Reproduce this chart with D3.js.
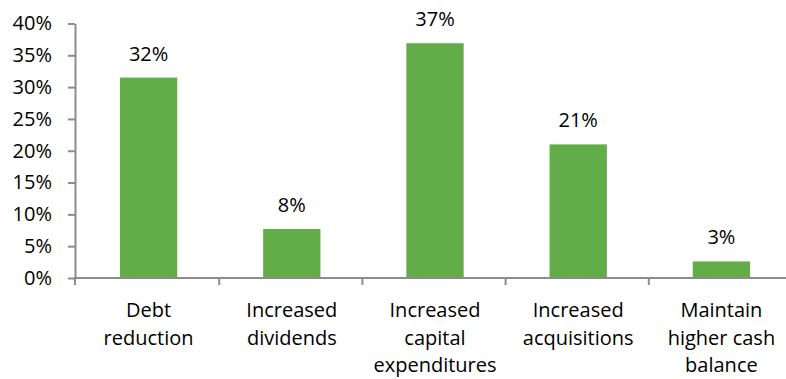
<!DOCTYPE html>
<html>
<head>
<meta charset="utf-8">
<script src="https://cdn.jsdelivr.net/npm/d3@7"></script>
<style>
  html, body { margin: 0; padding: 0; background: #fff; }
  svg { display: block; }
  text { font-family: "Open Sans", "Noto Sans", sans-serif; fill: #000; }
</style>
</head>
<body>
<svg id="chart" width="786" height="379"></svg>
<script>
// Uses of the funds: share of respondents per option
const categories = [
  "Debt reduction",
  "Increased dividends",
  "Increased capital expenditures",
  "Increased acquisitions",
  "Maintain higher cash balance"
];
const categoryLines = [
  ["Debt", "reduction"],
  ["Increased", "dividends"],
  ["Increased", "capital", "expenditures"],
  ["Increased", "acquisitions"],
  ["Maintain", "higher cash", "balance"]
];
const shares = [0.315, 0.077, 0.369, 0.210, 0.026];
const yTicks = [0, 0.05, 0.10, 0.15, 0.20, 0.25, 0.30, 0.35, 0.40];

const svg = d3.select("#chart");
const axisColor = "#8c8c8c";
const barColor = "#62ad47";
const fontSize = 20;

const plot = { left: 75, right: 792, top: 23.5, bottom: 278 };

const x = d3.scaleBand().domain(categories).range([plot.left + 1, plot.right]).padding(0);
const y = d3.scaleLinear().domain([0, 0.4]).range([plot.bottom, plot.top]);
const pct = d3.format(".0%");

// Bars
const barFrac = 0.40;
svg.append("g").selectAll("rect")
  .data(categories)
  .join("rect")
  .attr("x", (d) => x(d) + x.bandwidth() * (1 - barFrac) / 2 + 1)
  .attr("width", x.bandwidth() * barFrac)
  .attr("y", (d, i) => y(shares[i]))
  .attr("height", (d, i) => y(0) - y(shares[i]))
  .attr("fill", barColor);

// Value labels above bars
svg.append("g").selectAll("text")
  .data(categories)
  .join("text")
  .attr("x", (d) => x(d) + x.bandwidth() / 2 + 1)
  .attr("y", (d, i) => y(shares[i]) - 17)
  .attr("text-anchor", "middle")
  .style("font-size", fontSize + "px")
  .text((d, i) => pct(shares[i]));

// Y axis
const yAxis = svg.append("g")
  .attr("transform", `translate(${plot.left},0)`)
  .call(d3.axisLeft(y).tickValues(yTicks).tickFormat(pct).tickSize(7).tickSizeOuter(0).tickPadding(16));
yAxis.select(".domain").attr("stroke", axisColor).attr("stroke-width", 2);
yAxis.selectAll(".tick line").attr("stroke", axisColor).attr("stroke-width", 2);
yAxis.selectAll(".tick text")
  .style("font-size", fontSize + "px")
  .style("font-family", "'Open Sans', sans-serif")
  .attr("fill", "#000");

// X axis line
svg.append("line")
  .attr("x1", plot.left - 1).attr("x2", plot.right + 5)
  .attr("y1", plot.bottom).attr("y2", plot.bottom)
  .attr("stroke", axisColor).attr("stroke-width", 2);

// X axis tick marks at category boundaries
const boundaries = categories.map((d) => x(d)).concat([x.range()[1]]);
boundaries[0] = plot.left;
svg.append("g").selectAll("line")
  .data(boundaries)
  .join("line")
  .attr("x1", (d) => d).attr("x2", (d) => d)
  .attr("y1", plot.bottom).attr("y2", plot.bottom + 7)
  .attr("stroke", axisColor).attr("stroke-width", 2);

// Category labels (wrapped)
const lineHeight = 27.5;
const catG = svg.append("g").selectAll("text")
  .data(categories)
  .join("text")
  .attr("text-anchor", "middle")
  .style("font-size", fontSize + "px")
  .attr("transform", (d) => `translate(${x(d) + x.bandwidth() / 2 + 1},${plot.bottom + 39})`);
catG.selectAll("tspan")
  .data((d, i) => categoryLines[i])
  .join("tspan")
  .attr("x", 0)
  .attr("y", (d, j) => j * lineHeight)
  .text((d) => d);
</script>
</body>
</html>
